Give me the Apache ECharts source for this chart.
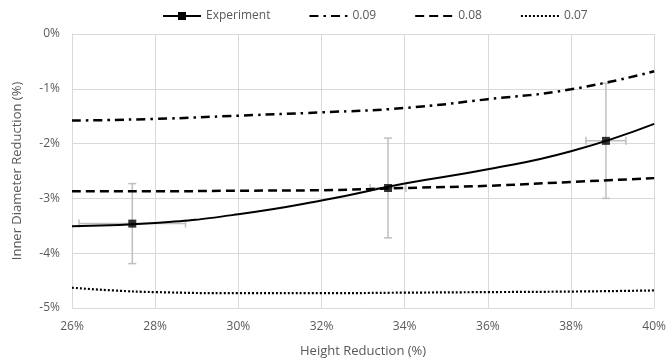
<!DOCTYPE html>
<html>
<head>
<meta charset="utf-8">
<script src="https://cdn.jsdelivr.net/npm/echarts@6/dist/echarts.min.js"></script>
<style>html,body{margin:0;padding:0;background:#fff}#c{width:669px;height:364px}</style>
</head>
<body>
<div id="c"></div>
<script>
// Data (percent units)
var xTicks = [26, 28, 30, 32, 34, 36, 38, 40];
var curve09 = [[26,-1.58],[28,-1.55],[30,-1.49],[32,-1.43],[34,-1.35],[36,-1.19],[38,-1.01],[40,-0.68]];
var curve08 = [[26,-2.87],[28,-2.87],[30,-2.86],[32,-2.85],[34,-2.81],[36,-2.77],[38,-2.70],[40,-2.63]];
var curve07 = [[26,-4.63],[27,-4.68],[28,-4.71],[30,-4.73],[32,-4.73],[34,-4.72],[36,-4.71],[38,-4.70],[40,-4.68]];
var expFit = [[26,-3.51],[28,-3.45],[30,-3.29],[32,-3.04],[34,-2.73],[36,-2.47],[38,-2.14],[40,-1.64]];
var expX = [27.45, 33.6, 38.84];
var expY = [-3.46, -2.81, -1.95];
var expXErr = [1.28, 0.43, 0.48];
var expYErr = [0.73, 0.91, 1.05];

var expPoints = expX.map(function(x,i){return [x, expY[i]];});
var errData = expX.map(function(x,i){return [x, expY[i], expXErr[i], expYErr[i]];});

var font = 'Open Sans';
var chart = echarts.init(document.getElementById('c'), null, {renderer:'canvas'});
chart.setOption({
  animation:false,
  textStyle:{fontFamily:font},
  legend:{
    top:5, left:157,
    data:[
      {name:'Experiment'},
      {name:'0.09', itemStyle:{opacity:0}},
      {name:'0.08', itemStyle:{opacity:0}},
      {name:'0.07', itemStyle:{opacity:0}}
    ],
    itemWidth:38, itemHeight:10, itemGap:38,
    textStyle:{fontFamily:font, fontSize:12, color:'#595959'}
  },
  grid:{left:72, right:13, top:34, bottom:56},
  xAxis:{
    type:'value', min:26, max:40, interval:2,
    name:'Height Reduction (%)', nameLocation:'middle', nameGap:37,
    nameTextStyle:{fontFamily:font, fontSize:13, color:'#595959'},
    axisLine:{show:true, lineStyle:{color:'#d9d9d9', width:1}},
    axisTick:{show:false},
    axisLabel:{formatter:'{value}%', color:'#595959', fontSize:12, fontFamily:font, margin:13},
    splitLine:{show:true, lineStyle:{color:'#d9d9d9', width:1}}
  },
  yAxis:{
    type:'value', min:-5, max:0, interval:1,
    name:'Inner Diameter Reduction (%)', nameLocation:'middle', nameGap:48, nameRotate:90,
    nameTextStyle:{fontFamily:font, fontSize:13, color:'#595959'},
    axisLine:{show:true, lineStyle:{color:'#d9d9d9', width:1}},
    axisTick:{show:false},
    axisLabel:{formatter:'{value}%', color:'#595959', fontSize:12, fontFamily:font, margin:12},
    splitLine:{show:true, lineStyle:{color:'#d9d9d9', width:1}}
  },
  series:[
    {name:'Experiment', type:'line', data:expFit, smooth:true, symbol:'rect', symbolSize:7, showSymbol:false,
     itemStyle:{color:'#000'}, lineStyle:{color:'#000', width:2}, z:3},
    {name:'0.09', type:'line', data:curve09, smooth:true, symbol:'none',
     itemStyle:{color:'#000'}, lineStyle:{color:'#000', width:2.5, type:[9,5,2.5,5]}},
    {name:'0.08', type:'line', data:curve08, smooth:true, symbol:'none',
     itemStyle:{color:'#000'}, lineStyle:{color:'#000', width:2.5, type:[9,5]}},
    {name:'0.07', type:'line', data:curve07, smooth:true, symbol:'none',
     itemStyle:{color:'#000'}, lineStyle:{color:'#000', width:2.2, type:[2,2]}},
    {name:'errors', type:'custom', data:errData, z:2,
     renderItem:function(params, api){
       var x=api.value(0), y=api.value(1), xe=api.value(2), ye=api.value(3);
       var top=api.coord([x,y+ye]), bot=api.coord([x,y-ye]);
       var lft=api.coord([x-xe,y]), rgt=api.coord([x+xe,y]);
       var cap=4;
       var st={stroke:'#bfbfbf', lineWidth:1.5};
       return {type:'group', children:[
         {type:'line', shape:{x1:top[0],y1:top[1],x2:bot[0],y2:bot[1]}, style:st},
         {type:'line', shape:{x1:top[0]-cap,y1:top[1],x2:top[0]+cap,y2:top[1]}, style:st},
         {type:'line', shape:{x1:bot[0]-cap,y1:bot[1],x2:bot[0]+cap,y2:bot[1]}, style:st},
         {type:'line', shape:{x1:lft[0],y1:lft[1],x2:rgt[0],y2:rgt[1]}, style:st},
         {type:'line', shape:{x1:lft[0],y1:lft[1]-cap,x2:lft[0],y2:lft[1]+cap}, style:st},
         {type:'line', shape:{x1:rgt[0],y1:rgt[1]-cap,x2:rgt[0],y2:rgt[1]+cap}, style:st}
       ]};
     }},
    {name:'Experiment', type:'scatter', data:expPoints, symbol:'rect', symbolSize:8,
     itemStyle:{color:'#000'}, z:5}
  ]
});
</script>
</body>
</html>
